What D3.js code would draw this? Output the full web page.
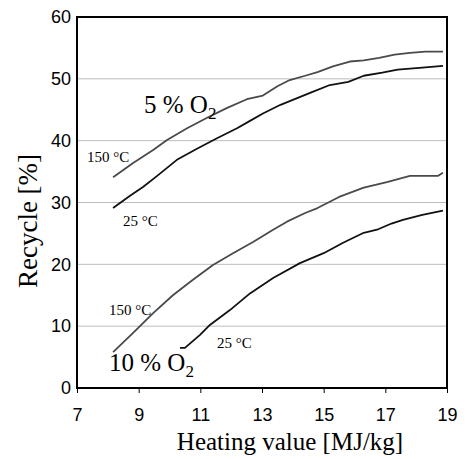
<!DOCTYPE html>
<html>
<head>
<meta charset="utf-8">
<script src="https://cdn.jsdelivr.net/npm/d3@7"></script>
<style>
  body { margin: 0; background: #fff; }
  svg { display: block; }
</style>
</head>
<body>
<div id="chart"></div>
<script>
// [heating value, recycle %]
const o2_5_150 = [[8.17, 34.1], [8.82, 36.4], [9.47, 38.5], [9.92, 40.1], [10.57, 42.0], [11.22, 43.7],
  [11.87, 45.3], [12.51, 46.7], [13.03, 47.3], [13.5, 48.8], [13.9, 49.8], [14.4, 50.5], [14.8, 51.1],
  [15.3, 52.0], [15.85, 52.8], [16.3, 53.0], [16.8, 53.4], [17.3, 53.9], [17.8, 54.2], [18.3, 54.4],
  [18.87, 54.4]];
const o2_5_25 = [[8.17, 29.1], [8.72, 31.1], [9.14, 32.5], [9.6, 34.3], [10.24, 36.9], [10.89, 38.7],
  [11.54, 40.4], [12.19, 42.0], [12.61, 43.2], [13.03, 44.4], [13.6, 45.8], [14.1, 46.8], [14.6, 47.8],
  [15.2, 49.0], [15.8, 49.5], [16.3, 50.5], [16.9, 51.0], [17.4, 51.5], [18.2, 51.8], [18.87, 52.1]];
const o2_10_150 = [[8.17, 5.8], [8.82, 8.9], [9.47, 12.1], [10.11, 15.0], [10.76, 17.5], [11.41, 19.9],
  [12.06, 21.8], [12.71, 23.6], [13.36, 25.6], [13.81, 26.9], [14.4, 28.3], [14.8, 29.1], [15.5, 30.9],
  [16.3, 32.4], [17.05, 33.3], [17.8, 34.3], [18.7, 34.3], [18.87, 34.8]];
const o2_10_25 = [[10.34, 6.5], [10.5, 6.5], [10.99, 8.6], [11.31, 10.2], [11.96, 12.6], [12.61, 15.3],
  [13.36, 17.8], [14.23, 20.2], [15.0, 21.8], [15.63, 23.5], [16.3, 25.1], [16.73, 25.6], [17.2, 26.6],
  [17.57, 27.2], [18.2, 28.0], [18.87, 28.7]];

const xTicks = [7, 9, 11, 13, 15, 17, 19];
const yTicks = [0, 10, 20, 30, 40, 50, 60];
const tempLabels = ['150 °C', '25 °C', '150 °C', '25 °C'];

const width = 470, height = 459;
const margin = { top: 17, right: 23, bottom: 71, left: 77 };

const svg = d3.select('#chart').append('svg')
  .attr('width', width)
  .attr('height', height);

const x = d3.scaleLinear().domain([7, 19]).range([margin.left, width - margin.right]);
const y = d3.scaleLinear().domain([0, 60]).range([height - margin.bottom, margin.top]);

const sans = 'Liberation Sans, Arial, sans-serif';
const serif = 'Liberation Serif, Times New Roman, serif';

// horizontal grid
svg.append('g')
  .selectAll('line')
  .data(yTicks.filter(d => d > 0 && d < 60))
  .join('line')
  .attr('x1', x(7)).attr('x2', x(19))
  .attr('y1', d => y(d)).attr('y2', d => y(d))
  .attr('stroke', '#bdbdbd').attr('stroke-width', 1);

// frame
svg.append('rect')
  .attr('x', x(7)).attr('y', y(60))
  .attr('width', x(19) - x(7)).attr('height', y(0) - y(60))
  .attr('fill', 'none').attr('stroke', '#000').attr('stroke-width', 2);

// axes
const xAxis = svg.append('g')
  .attr('transform', `translate(0,${y(0)})`)
  .call(d3.axisBottom(x).tickValues(xTicks).tickSize(5).tickPadding(15));
xAxis.select('.domain').remove();
xAxis.selectAll('text').attr('font-family', sans).attr('font-size', 18).attr('fill', '#000');

const yAxis = svg.append('g')
  .attr('transform', `translate(${x(7)},0)`)
  .call(d3.axisLeft(y).tickValues(yTicks).tickSize(0).tickPadding(6));
yAxis.select('.domain').remove();
yAxis.selectAll('text').attr('font-family', sans).attr('font-size', 18).attr('fill', '#000');

// curves: 150 °C grey, 25 °C black
const curves = [
  { data: o2_5_150, color: '#4a4a4a' },
  { data: o2_5_25, color: '#111' },
  { data: o2_10_150, color: '#4a4a4a' },
  { data: o2_10_25, color: '#111' }
];
const line = d3.line().x(d => x(d[0])).y(d => y(d[1]));
svg.append('g')
  .selectAll('path')
  .data(curves)
  .join('path')
  .attr('d', d => line(d.data))
  .attr('fill', 'none')
  .attr('stroke', d => d.color)
  .attr('stroke-width', 1.8)
  .attr('stroke-linejoin', 'round');

// temperature labels
const tempPos = [[87, 162], [123, 226], [109, 315], [217, 348]];
svg.append('g')
  .selectAll('text')
  .data(tempLabels)
  .join('text')
  .attr('x', (d, i) => tempPos[i][0])
  .attr('y', (d, i) => tempPos[i][1])
  .attr('font-family', serif)
  .attr('font-size', 15)
  .text(d => d);

// oxygen labels
function o2Label(tx, ty, num) {
  const t = svg.append('text')
    .attr('x', tx).attr('y', ty)
    .attr('font-family', serif).attr('font-size', 25);
  t.append('tspan').text(num + ' % O');
  t.append('tspan').attr('font-size', 17).attr('dy', 6).text('2');
}
o2Label(144, 113, '5');
o2Label(109, 371, '10');

// axis titles
svg.append('text')
  .attr('x', 290).attr('y', 450)
  .attr('text-anchor', 'middle')
  .attr('font-family', serif).attr('font-size', 25)
  .text('Heating value [MJ/kg]');

svg.append('text')
  .attr('transform', 'translate(37,221) rotate(-90)')
  .attr('text-anchor', 'middle')
  .attr('font-family', serif).attr('font-size', 27)
  .text('Recycle [%]');
</script>
</body>
</html>
